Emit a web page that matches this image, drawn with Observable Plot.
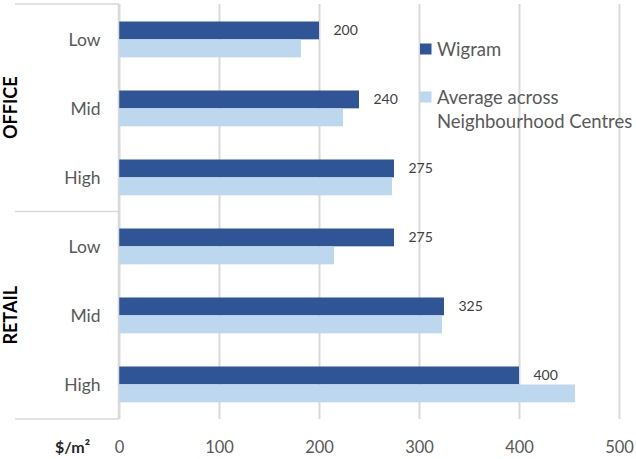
<!DOCTYPE html>
<html><head><meta charset="utf-8">
<script src="https://cdn.jsdelivr.net/npm/d3@7"></script>
<script src="https://cdn.jsdelivr.net/npm/@observablehq/plot@0.6"></script>
<style>
body{margin:0;overflow:hidden;background:#fff}
#chart svg{overflow:hidden}
</style>
</head><body><div id="chart"></div>
<script>
const groups = ["OFFICE", "RETAIL"];
const levels = ["Low", "Mid", "High"];
const wigram = [200, 240, 275, 275, 325, 400];
const average = [182, 224, 273, 215, 323, 456];
const xTicks = [0, 100, 200, 300, 400, 500];
const seriesNames = ["Wigram", "Average across Neighbourhood Centres"];
const unitLabel = "$/m\u00B2";

const keys = groups.flatMap(g => levels.map(l => g + "|" + l));
const rows = keys.map((k, i) => ({key: k, wigram: wigram[i], average: average[i]}));

const W = 636, H = 459;
const mTop = 4, mBottom = 40, mLeft = 119, mRight = 17;
const bw = (H - mTop - mBottom) / keys.length;
const DARK = "#2F5597", LIGHT = "#BDD7EE";
const FONT = "Lato, 'Open Sans', sans-serif";

function decorations(index, scales, values, dimensions) {
  const {width, height, marginLeft, marginTop, marginBottom} = dimensions;
  const band = (height - marginTop - marginBottom) / keys.length;
  const g = d3.create("svg:g").attr("text-anchor", "start");
  // separators
  const seps = [0, levels.length, keys.length].map(i => marginTop + i * band);
  g.selectAll("line.sep").data(seps).join("line")
    .attr("x1", 15).attr("x2", marginLeft).attr("y1", d => d).attr("y2", d => d)
    .attr("stroke", "#d9d9d9").attr("stroke-width", 1.5);
  g.append("line").attr("x1", marginLeft - 0.5).attr("x2", marginLeft - 0.5)
    .attr("y1", marginTop).attr("y2", height - marginBottom)
    .attr("stroke", "#d9d9d9").attr("stroke-width", 1.5);
  // group labels
  groups.forEach((grp, gi) => {
    const cy = marginTop + (gi * levels.length + levels.length / 2) * band;
    g.append("text").text(grp)
      .attr("transform", `translate(17,${cy}) rotate(-90)`)
      .attr("text-anchor", "middle")
      .attr("font-family", FONT).attr("font-weight", "bold").attr("font-size", 18)
      .attr("fill", "#000");
  });
  // unit label
  g.append("text").text(unitLabel)
    .attr("x", 55).attr("y", height - marginBottom + 34)
    .attr("text-anchor", "start")
    .attr("font-family", FONT).attr("font-weight", "bold").attr("font-size", 16)
    .attr("fill", "#262626");
  // legend
  const lx = 420;
  const items = [
    {color: DARK, lines: [seriesNames[0]], y: 49},
    {color: LIGHT, lines: ["Average across", "Neighbourhood Centres"], y: 97}
  ];
  items.forEach(it => {
    g.append("rect").attr("x", lx).attr("y", it.y - 5.5).attr("width", 11.5).attr("height", 11)
      .attr("fill", it.color);
    it.lines.forEach((ln, li) => {
      g.append("text").text(ln).attr("x", lx + 17).attr("y", it.y + li * 24)
        .attr("dy", "0.36em").attr("text-anchor", "start")
        .attr("font-family", FONT).attr("font-size", 18.5).attr("fill", "#595959");
    });
  });
  return g.node();
}

const chart = Plot.plot({
  width: W, height: H,
  marginTop: mTop, marginBottom: mBottom, marginLeft: mLeft, marginRight: mRight,
  style: {fontFamily: FONT, fontSize: "16px", background: "#fff", overflow: "hidden"},
  x: {domain: [0, 500], label: null},
  y: {domain: keys, padding: 0, label: null},
  marks: [
    Plot.gridX({ticks: xTicks, stroke: "#d9d9d9", strokeOpacity: 1, strokeWidth: 2}),
    Plot.barX(rows, {x: "wigram", y: "key", fill: DARK, insetTop: 16.5, insetBottom: bw - 34.5}),
    Plot.barX(rows, {x: "average", y: "key", fill: LIGHT, insetTop: 34.5, insetBottom: bw - 52.5}),
    Plot.text(rows, {x: "wigram", y: "key", text: d => String(d.wigram), dx: 14, dy: 25.5 - bw / 2,
      textAnchor: "start", fill: "#404040", fontSize: 14}),
    Plot.axisY({tickSize: 0, tickPadding: 19, tickFormat: k => k.split("|")[1], fill: "#595959", fontSize: 17.5, label: null}),
    Plot.axisX({ticks: xTicks, tickSize: 0, tickPadding: 22, fill: "#595959", fontSize: 16.5, label: null}),
    decorations
  ]
});
document.getElementById("chart").appendChild(chart);
</script>
</body></html>
